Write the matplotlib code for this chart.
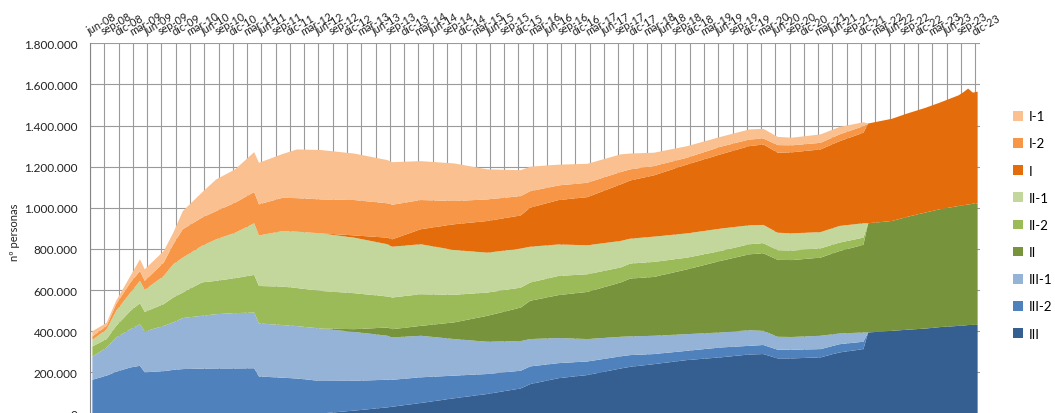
import matplotlib
matplotlib.use('Agg')
import matplotlib.pyplot as plt
from matplotlib.patches import Patch
from matplotlib.ticker import FuncFormatter

plt.rcParams['font.family'] = ['Lato', 'DejaVu Sans']

# meses contados desde jun-08 (0 = jun-08, 186 = dic-23)
meses = [0, 3, 5, 8, 10, 11, 15, 17, 19, 23, 26, 30, 34, 35, 40, 43, 48, 55,
         62, 63, 69, 76, 83, 90, 92, 98, 104, 111, 113, 118, 125, 132, 138, 141,
         144, 147, 153, 157, 162, 163, 168, 171, 175, 178, 182, 183, 184, 185, 186]

# miles de personas por grado / nivel
g3 = [0, 0, 0, 0, 0, 0, 0, 0, 0, 0, 0, 0, 0, 0, 0, 0, 0, 14,
      30, 33, 51, 74, 95, 122, 143, 172, 187, 219, 227, 240, 260, 273, 287, 289,
      268, 268, 273, 297, 313, 394, 402, 407, 413, 420, 426, 428, 430, 431, 431]
g3_2 = [164, 184, 203, 224, 232, 200, 206, 212, 216, 218, 219, 219, 220, 180, 174, 170, 158, 145,
        134, 131, 125, 110, 97, 86, 86, 73, 66, 59, 57, 49, 45, 48, 42, 44,
        42, 42, 40, 40, 36, 0, 0, 0, 0, 0, 0, 0, 0, 0, 0]
g3_1 = [112, 137, 167, 186, 202, 199, 220, 231, 248, 257, 264, 269, 271, 258, 256, 255, 255, 238,
        214, 206, 202, 178, 157, 144, 133, 122, 109, 95, 91, 89, 81, 73, 76, 69,
        63, 62, 65, 52, 45, 0, 0, 0, 0, 0, 0, 0, 0, 0, 0]
g2 = [0, 0, 0, 0, 0, 0, 0, 0, 0, 0, 0, 0, 0, 0, 0, 0, 0, 13,
      40, 40, 48, 81, 126, 163, 186, 209, 229, 264, 281, 286, 315, 348, 369, 377,
      374, 374, 380, 401, 426, 531, 534, 548, 564, 573, 583, 585, 586, 589, 591]
g2_2 = [50, 41, 56, 89, 102, 95, 106, 121, 124, 162, 162, 170, 183, 182, 187, 185, 183, 175,
        151, 154, 154, 134, 113, 97, 89, 93, 86, 73, 73, 73, 57, 48, 49, 49,
        47, 46, 45, 41, 35, 0, 0, 0, 0, 0, 0, 0, 0, 0, 0]
g2_1 = [32, 48, 73, 89, 109, 107, 137, 162, 170, 178, 202, 221, 251, 246, 270, 274, 280, 270,
        254, 247, 243, 218, 194, 190, 174, 153, 141, 129, 121, 123, 118, 109, 92, 89,
        85, 84, 79, 81, 70, 0, 0, 0, 0, 0, 0, 0, 0, 0, 0]
g1 = [0, 0, 0, 0, 0, 0, 0, 0, 0, 0, 0, 0, 0, 0, 0, 0, 0, 11,
      32, 36, 73, 125, 154, 161, 190, 216, 234, 275, 283, 298, 335, 361, 385, 391,
      389, 394, 402, 412, 440, 485, 497, 502, 509, 518, 538, 549, 564, 540, 543]
g1_2 = [17, 16, 33, 49, 48, 44, 65, 97, 138, 137, 137, 146, 152, 151, 162, 163, 165, 172,
        167, 168, 142, 113, 105, 94, 80, 71, 70, 60, 54, 45, 33, 37, 32, 29,
        37, 34, 32, 33, 32, 0, 0, 0, 0, 0, 0, 0, 0, 0, 0]
g1_1 = [25, 15, 16, 32, 57, 56, 56, 56, 88, 122, 154, 162, 194, 202, 213, 237, 240, 226,
        210, 207, 189, 183, 146, 126, 119, 101, 92, 86, 77, 65, 56, 48, 49, 47,
        40, 37, 41, 36, 19, 0, 0, 0, 0, 0, 0, 0, 0, 0, 0]

series = ['III', 'III-2', 'III-1', 'II', 'II-2', 'II-1', 'I', 'I-2', 'I-1']
colores = ['#365F91', '#4F81BD', '#95B3D7', '#77933C', '#9BBB59', '#C3D69B',
           '#E46C0A', '#F79646', '#FAC090']
nombres_mes = ['ene', 'feb', 'mar', 'abr', 'may', 'jun', 'jul', 'ago', 'sep', 'oct', 'nov', 'dic']

valores = [g3, g3_2, g3_1, g2, g2_2, g2_1, g1, g1_2, g1_1]
valores = [[v * 1000 for v in s] for s in valores]
x = [m + 0.5 for m in meses]

fig = plt.figure(figsize=(10.55, 4.14), dpi=100)
ax = fig.add_axes([90 / 1055, -0.5 / 414, 890 / 1055, 370.2 / 414])

ax.stackplot(x, *valores, colors=colores, linewidth=0)

# eje x arriba, etiquetas cada trimestre
ticks = list(range(0, 187, 3))
etiquetas = []
for t in ticks:
    mes = (5 + t) % 12
    anio = 8 + (5 + t) // 12
    etiquetas.append(f'{nombres_mes[mes]}-{anio:02d}')
ax.xaxis.tick_top()
ax.set_xticks(ticks)
ax.set_xticklabels(etiquetas, rotation=30, ha='left', va='bottom',
                   rotation_mode='anchor', fontsize=7.8, color='#222222')
ax.tick_params(axis='x', length=0, pad=5)

ax.set_xlim(0, 187)
ax.set_ylim(0, 1800000)
ax.set_yticks(range(0, 1800001, 200000))
ax.yaxis.set_major_formatter(FuncFormatter(lambda v, p: f'{int(v):,}'.replace(',', '.')))
ax.tick_params(axis='y', length=0, pad=9, labelsize=8.5, labelcolor='#222222')

ax.set_axisbelow(True)
ax.grid(True, color='#9a9a9a', linewidth=0.8)
for s in ['top', 'right', 'bottom']:
    ax.spines[s].set_visible(False)
ax.spines['left'].set_color('#868686')

fig.text(15 / 1055, 1 - 232 / 414, 'nº personas', rotation=90, ha='center', va='center',
         fontsize=8, color='#222222')

handles = [Patch(facecolor=c, edgecolor='none') for c in colores[::-1]]
fig.legend(handles, series[::-1], loc='upper left', bbox_to_anchor=(1008 / 1055, 1 - 106 / 414),
           frameon=False, fontsize=9.5, handlelength=0.75, handleheight=0.75,
           handletextpad=0.4, labelspacing=1.15, borderaxespad=0)

fig.savefig('out.png', dpi=100)
